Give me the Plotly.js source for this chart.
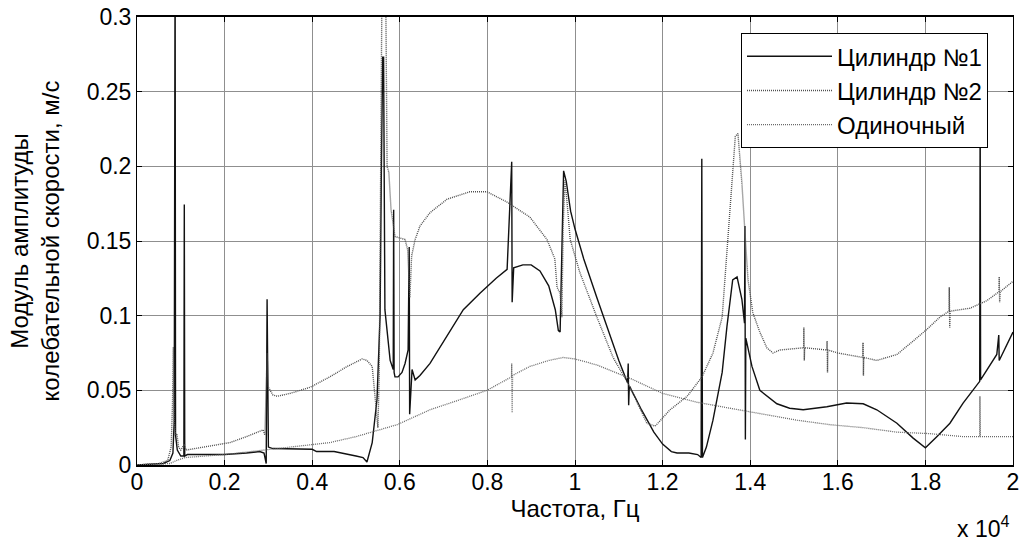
<!DOCTYPE html>
<html><head><meta charset="utf-8">
<script src="https://cdn.plot.ly/plotly-3.0.1.min.js"></script>
<style>html,body{margin:0;padding:0;background:#fff}#chart{width:1024px;height:544px}</style>
</head><body><div id="chart"></div>
<script>
// Frequency in Hz, amplitude in m/s
const cyl1Freq = [0,300,600,750,820,850,870,880,920,1000,1070,1080,1090,1150,2000,2500,2800,2900,2950,2970,3000,3100,3500,4000,4100,4500,5000,5160,5250,5370,5480,5550,5580,5610,5630,5650,5660,5780,5850,5860,5870,5890,5960,6050,6120,6190,6215,6225,6280,6350,6460,6690,7000,7450,7830,8200,8450,8555,8565,8600,8810,9000,9200,9400,9550,9620,9660,9700,9740,9800,9900,10000,10200,10500,10700,11000,11200,11215,11225,11240,11500,11800,12000,12200,12330,12600,12800,12880,12895,12910,13000,13150,13360,13470,13600,13700,13810,13870,13880,13890,13900,14040,14220,14610,14900,15210,15750,16200,16580,16890,17350,17720,18000,18260,18560,18860,19240,19250,19260,19630,19675,19685,20000];
const cyl1Amp = [0,0.0005,0.001,0.003,0.008,0.03,0.35,0.02,0.01,0.006,0.006,0.1745,0.006,0.007,0.007,0.008,0.009,0.008,0.001,0.111,0.012,0.011,0.011,0.0105,0.009,0.009,0.006,0.005,0.002,0.015,0.044,0.10,0.20,0.273,0.273,0.17,0.104,0.070,0.064,0.171,0.062,0.059,0.059,0.062,0.068,0.077,0.146,0.034,0.064,0.057,0.060,0.068,0.083,0.104,0.115,0.125,0.131,0.203,0.109,0.132,0.134,0.134,0.130,0.120,0.104,0.090,0.089,0.150,0.197,0.190,0.170,0.158,0.138,0.112,0.095,0.070,0.055,0.068,0.040,0.053,0.038,0.022,0.014,0.009,0.008,0.008,0.007,0.005,0.205,0.005,0.012,0.030,0.062,0.093,0.124,0.126,0.111,0.095,0.160,0.017,0.085,0.066,0.050,0.041,0.038,0.037,0.039,0.0415,0.041,0.037,0.028,0.018,0.0115,0.019,0.028,0.0415,0.056,0.25,0.057,0.074,0.087,0.070,0.089];

const cyl2Freq = [0,500,700,780,810,830,850,880,910,950,1000,1040,1080,1120,1500,2120,2500,2880,2920,2970,3000,3100,3200,3500,3950,4400,4800,5140,5250,5370,5440,5500,5530,5570,5600,5670,5710,5750,5800,5890,6120,6180,6210,6230,6270,6350,6460,6690,7080,7600,7990,8450,8970,9360,9540,9590,9660,9700,9730,9770,9830,9890,10110,10500,10870,11260,11640,11830,12170,12560,12900,13150,13360,13420,13490,13580,13660,13720,13810,13880,13950,14060,14220,14380,14520,14680,15220,15225,15235,15245,15750,15755,15765,15775,16000,16570,16575,16585,16595,16890,17350,17720,18040,18330,18540,18545,18555,18565,19020,19400,19680,19685,19695,19705,20000];
const cyl2Amp = [0,0.001,0.003,0.012,0.04,0.079,0.03,0.02,0.021,0.012,0.010,0.012,0.014,0.010,0.012,0.015,0.019,0.0235,0.020,0.075,0.052,0.047,0.046,0.048,0.052,0.059,0.066,0.071,0.070,0.066,0.044,0.025,0.06,0.20,0.35,0.35,0.20,0.196,0.171,0.153,0.151,0.144,0.125,0.112,0.140,0.151,0.160,0.169,0.178,0.183,0.183,0.176,0.166,0.151,0.138,0.119,0.115,0.099,0.160,0.191,0.172,0.151,0.129,0.099,0.072,0.052,0.028,0.026,0.037,0.046,0.059,0.075,0.099,0.124,0.151,0.189,0.220,0.222,0.189,0.156,0.124,0.102,0.089,0.0785,0.075,0.077,0.0785,0.092,0.070,0.0785,0.077,0.083,0.062,0.077,0.075,0.072,0.082,0.060,0.072,0.070,0.074,0.083,0.091,0.099,0.103,0.119,0.092,0.103,0.105,0.110,0.116,0.126,0.109,0.116,0.123];

const singleFreq = [0,500,750,900,1100,2000,3000,3500,4400,5000,5940,6690,7300,7990,8550,8555,8565,8575,8970,9400,9730,10000,10500,11260,12000,12790,13540,14300,15070,15820,16580,17350,18100,18860,19240,19245,19255,20000];
const singleAmp = [0,0.0005,0.001,0.003,0.005,0.007,0.010,0.012,0.015,0.019,0.027,0.037,0.043,0.050,0.059,0.068,0.035,0.060,0.066,0.070,0.072,0.071,0.067,0.058,0.048,0.042,0.038,0.034,0.030,0.027,0.025,0.022,0.021,0.019,0.019,0.046,0.019,0.019];

const seriesNames = ['Цилиндр №1','Цилиндр №2','Одиночный'];
const xTickVals = [0,2000,4000,6000,8000,10000,12000,14000,16000,18000,20000];
const xTickText = ['0','0.2','0.4','0.6','0.8','1','1.2','1.4','1.6','1.8','2'];
const yTickVals = [0,0.05,0.1,0.15,0.2,0.25,0.3];
const yTickText = ['0','0.05','0.1','0.15','0.2','0.25','0.3'];

const traces = [
  {x:cyl1Freq, y:cyl1Amp, name:seriesNames[0], type:'scatter', mode:'lines', line:{color:'#111111', width:1.4}},
  {x:cyl2Freq, y:cyl2Amp, name:seriesNames[1], type:'scatter', mode:'lines', line:{color:'#505050', width:1.4, dash:'1px,1px'}},
  {x:singleFreq, y:singleAmp, name:seriesNames[2], type:'scatter', mode:'lines', line:{color:'#6a6a6a', width:1.3, dash:'1px,1px'}}
];

const fontFam = 'Liberation Sans, Arial, sans-serif';
const axisCommon = {ticks:'inside', ticklen:5, tickcolor:'#000', showgrid:true, gridcolor:'#8f8f8f', gridwidth:1, showline:true, linecolor:'#000', mirror:'ticks', zeroline:false, fixedrange:true};
const layout = {
  width:1024, height:544,
  margin:{l:137, r:11, t:17, b:79},
  paper_bgcolor:'#fff', plot_bgcolor:'#fff',
  font:{family:fontFam, size:23, color:'#000'},
  showlegend:true,
  legend:{x:0.6895, y:0.964, xanchor:'left', yanchor:'top', bgcolor:'#fff', bordercolor:'#000', borderwidth:1, font:{size:24, family:fontFam}, itemwidth:85},
  xaxis:Object.assign({}, axisCommon, {range:[0,20000], tickmode:'array', tickvals:xTickVals, ticktext:xTickText, linewidth:2, tickfont:{size:23}, ticklabelstandoff:-5, title:{text:'Частота, Гц', font:{size:24}, standoff:2}}),
  yaxis:Object.assign({}, axisCommon, {range:[0,0.3], tickmode:'array', tickvals:yTickVals, ticktext:yTickText, linewidth:1, tickfont:{size:23}, title:{text:'Модуль амплитуды<br>колебательной скорости, м/с', font:{size:24}, standoff:20}}),
  annotations:[{xref:'paper', yref:'paper', x:0.966, y:-0.138, xanchor:'center', yanchor:'middle', showarrow:false, text:'x 10<sup>4</sup>', font:{size:23}}]
};
Plotly.newPlot('chart', traces, layout, {displayModeBar:false, staticPlot:true});
</script></body></html>
